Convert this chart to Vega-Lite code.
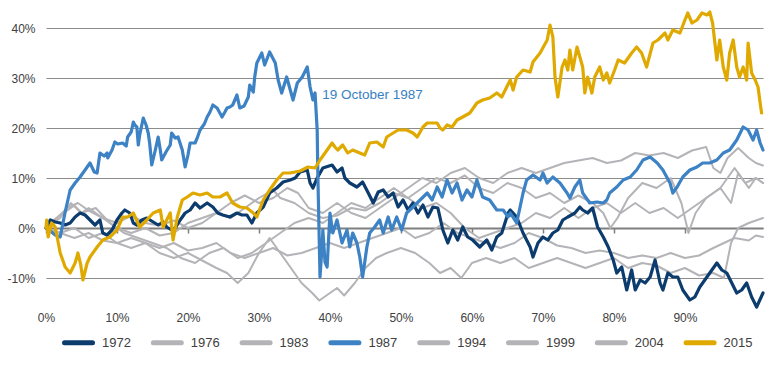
{
  "$schema": "https://vega.github.io/schema/vega-lite/v6.json",
  "width": 717,
  "height": 300,
  "autosize": {"type": "none"},
  "padding": {"left": 46, "top": 8, "right": 7, "bottom": 59},
  "background": "#ffffff",
  "config": {
    "view": {"stroke": null},
    "font": "Liberation Sans",
    "axis": {"labelFont": "Liberation Sans", "labelFontSize": 12, "labelColor": "#404040", "title": null},
    "legend": {"labelFont": "Liberation Sans"}
  },
  "datasets": {
    "lines": [
      {"s":"1972","x":0,"y":0},{"s":"1972","x":0.6,"y":1.6},{"s":"1972","x":1.3,"y":1.2},{"s":"1972","x":2.0,"y":1.0},{"s":"1972","x":2.7,"y":0.6},{"s":"1972","x":3.4,"y":1.0},{"s":"1972","x":4.1,"y":2.2},{"s":"1972","x":4.8,"y":3.0},{"s":"1972","x":5.5,"y":2.6},{"s":"1972","x":6.2,"y":1.6},{"s":"1972","x":6.9,"y":0.6},{"s":"1972","x":7.6,"y":1.6},{"s":"1972","x":8.0,"y":-1.0},{"s":"1972","x":8.6,"y":-1.4},{"s":"1972","x":9.3,"y":-0.4},{"s":"1972","x":10.0,"y":1.6},{"s":"1972","x":10.7,"y":3.0},{"s":"1972","x":11.1,"y":3.6},{"s":"1972","x":11.8,"y":3.0},{"s":"1972","x":12.3,"y":1.0},{"s":"1972","x":12.8,"y":0.6},{"s":"1972","x":13.5,"y":1.6},{"s":"1972","x":14.2,"y":2.0},{"s":"1972","x":15.1,"y":1.2},{"s":"1972","x":15.8,"y":0.6},{"s":"1972","x":16.5,"y":1.2},{"s":"1972","x":17.0,"y":0.2},{"s":"1972","x":17.7,"y":-0.4},{"s":"1972","x":18.2,"y":0.0},{"s":"1972","x":18.9,"y":1.6},{"s":"1972","x":19.6,"y":3.0},{"s":"1972","x":20.3,"y":3.6},{"s":"1972","x":21.0,"y":5.0},{"s":"1972","x":21.7,"y":4.0},{"s":"1972","x":22.7,"y":5.0},{"s":"1972","x":23.5,"y":4.2},{"s":"1972","x":24.2,"y":3.0},{"s":"1972","x":24.9,"y":2.6},{"s":"1972","x":25.9,"y":2.2},{"s":"1972","x":26.9,"y":3.0},{"s":"1972","x":27.6,"y":2.6},{"s":"1972","x":28.3,"y":2.6},{"s":"1972","x":29.0,"y":1.0},{"s":"1972","x":29.7,"y":3.0},{"s":"1972","x":30.6,"y":4.2},{"s":"1972","x":31.5,"y":7.0},{"s":"1972","x":32.5,"y":8.0},{"s":"1972","x":33.4,"y":9.2},{"s":"1972","x":34.4,"y":9.6},{"s":"1972","x":35.1,"y":10.0},{"s":"1972","x":35.8,"y":11.2},{"s":"1972","x":36.8,"y":11.6},{"s":"1972","x":37.2,"y":9.0},{"s":"1972","x":37.6,"y":8.0},{"s":"1972","x":38.2,"y":10.0},{"s":"1972","x":39.0,"y":12.0},{"s":"1972","x":40.3,"y":12.6},{"s":"1972","x":41.0,"y":11.2},{"s":"1972","x":41.7,"y":12.0},{"s":"1972","x":42.1,"y":10.0},{"s":"1972","x":42.8,"y":9.0},{"s":"1972","x":43.8,"y":8.2},{"s":"1972","x":44.6,"y":9.2},{"s":"1972","x":45.4,"y":7.0},{"s":"1972","x":46.1,"y":5.0},{"s":"1972","x":46.8,"y":7.2},{"s":"1972","x":47.5,"y":7.6},{"s":"1972","x":48.2,"y":6.2},{"s":"1972","x":48.9,"y":7.0},{"s":"1972","x":49.6,"y":4.2},{"s":"1972","x":50.3,"y":5.6},{"s":"1972","x":51.0,"y":3.6},{"s":"1972","x":51.7,"y":5.0},{"s":"1972","x":52.4,"y":3.0},{"s":"1972","x":53.1,"y":4.6},{"s":"1972","x":53.8,"y":2.2},{"s":"1972","x":54.5,"y":4.2},{"s":"1972","x":55.2,"y":4.0},{"s":"1972","x":55.9,"y":-0.4},{"s":"1972","x":56.6,"y":-3.0},{"s":"1972","x":57.3,"y":-0.4},{"s":"1972","x":58.0,"y":-2.4},{"s":"1972","x":58.7,"y":0.2},{"s":"1972","x":59.4,"y":-1.8},{"s":"1972","x":60.1,"y":-2.4},{"s":"1972","x":61.1,"y":-3.8},{"s":"1972","x":62.1,"y":-2.4},{"s":"1972","x":62.8,"y":-4.4},{"s":"1972","x":63.5,"y":-1.8},{"s":"1972","x":64.2,"y":-1.0},{"s":"1972","x":65.1,"y":3.0},{"s":"1972","x":65.4,"y":3.6},{"s":"1972","x":66.3,"y":2.2},{"s":"1972","x":67.2,"y":-1.0},{"s":"1972","x":68.2,"y":-3.8},{"s":"1972","x":68.6,"y":-5.8},{"s":"1972","x":69.3,"y":-3.0},{"s":"1972","x":70.0,"y":-1.8},{"s":"1972","x":70.7,"y":-2.4},{"s":"1972","x":71.4,"y":-1.0},{"s":"1972","x":72.1,"y":-0.4},{"s":"1972","x":72.8,"y":1.6},{"s":"1972","x":73.5,"y":2.2},{"s":"1972","x":74.5,"y":3.0},{"s":"1972","x":75.2,"y":4.2},{"s":"1972","x":75.6,"y":3.6},{"s":"1972","x":76.3,"y":3.0},{"s":"1972","x":77.0,"y":4.0},{"s":"1972","x":77.7,"y":0.2},{"s":"1972","x":78.5,"y":-1.8},{"s":"1972","x":79.2,"y":-3.8},{"s":"1972","x":79.9,"y":-6.4},{"s":"1972","x":80.4,"y":-9.0},{"s":"1972","x":81.1,"y":-7.8},{"s":"1972","x":81.8,"y":-12.4},{"s":"1972","x":82.5,"y":-8.4},{"s":"1972","x":83.0,"y":-12.4},{"s":"1972","x":83.7,"y":-10.4},{"s":"1972","x":84.4,"y":-11.0},{"s":"1972","x":85.1,"y":-9.8},{"s":"1972","x":85.8,"y":-6.4},{"s":"1972","x":86.5,"y":-11.0},{"s":"1972","x":86.9,"y":-12.4},{"s":"1972","x":87.6,"y":-9.0},{"s":"1972","x":88.3,"y":-9.8},{"s":"1972","x":89.0,"y":-9.8},{"s":"1972","x":89.7,"y":-12.4},{"s":"1972","x":90.7,"y":-14.4},{"s":"1972","x":91.4,"y":-13.8},{"s":"1972","x":92.1,"y":-11.8},{"s":"1972","x":92.8,"y":-10.4},{"s":"1972","x":93.5,"y":-9.0},{"s":"1972","x":94.5,"y":-7.0},{"s":"1972","x":95.2,"y":-8.4},{"s":"1972","x":95.9,"y":-9.0},{"s":"1972","x":96.6,"y":-11.0},{"s":"1972","x":97.3,"y":-13.0},{"s":"1972","x":98.0,"y":-12.4},{"s":"1972","x":98.7,"y":-11.0},{"s":"1972","x":99.4,"y":-13.8},{"s":"1972","x":100.1,"y":-15.8},{"s":"1972","x":101.0,"y":-13.0},

      {"s":"1987","x":0,"y":0},{"s":"1987","x":0.6,"y":-0.6},{"s":"1987","x":1.3,"y":-1.4},{"s":"1987","x":2.0,"y":-1.8},{"s":"1987","x":2.7,"y":3.2},{"s":"1987","x":3.4,"y":7.6},{"s":"1987","x":4.1,"y":9.0},{"s":"1987","x":4.8,"y":10.2},{"s":"1987","x":5.5,"y":11.6},{"s":"1987","x":6.2,"y":13.0},{"s":"1987","x":6.8,"y":11.2},{"s":"1987","x":7.2,"y":11.0},{"s":"1987","x":7.6,"y":15.0},{"s":"1987","x":8.2,"y":14.4},{"s":"1987","x":8.6,"y":15.0},{"s":"1987","x":8.7,"y":14.0},{"s":"1987","x":9.3,"y":15.6},{"s":"1987","x":9.7,"y":17.2},{"s":"1987","x":10.1,"y":16.8},{"s":"1987","x":10.8,"y":17.0},{"s":"1987","x":11.3,"y":16.4},{"s":"1987","x":11.5,"y":18.2},{"s":"1987","x":12.0,"y":19.2},{"s":"1987","x":12.3,"y":21.2},{"s":"1987","x":12.5,"y":20.6},{"s":"1987","x":12.8,"y":20.2},{"s":"1987","x":13.0,"y":16.6},{"s":"1987","x":13.2,"y":18.6},{"s":"1987","x":13.7,"y":22.0},{"s":"1987","x":14.1,"y":20.6},{"s":"1987","x":14.4,"y":19.0},{"s":"1987","x":14.6,"y":17.0},{"s":"1987","x":14.9,"y":12.6},{"s":"1987","x":15.4,"y":15.6},{"s":"1987","x":15.8,"y":18.2},{"s":"1987","x":16.1,"y":15.6},{"s":"1987","x":16.3,"y":13.6},{"s":"1987","x":16.9,"y":15.2},{"s":"1987","x":17.5,"y":16.6},{"s":"1987","x":17.7,"y":19.0},{"s":"1987","x":18.2,"y":18.0},{"s":"1987","x":18.6,"y":18.2},{"s":"1987","x":19.2,"y":15.6},{"s":"1987","x":19.6,"y":12.2},{"s":"1987","x":20.0,"y":14.6},{"s":"1987","x":20.3,"y":17.0},{"s":"1987","x":21.0,"y":17.0},{"s":"1987","x":21.3,"y":18.0},{"s":"1987","x":21.7,"y":19.6},{"s":"1987","x":22.3,"y":20.8},{"s":"1987","x":22.7,"y":22.2},{"s":"1987","x":23.1,"y":23.2},{"s":"1987","x":23.5,"y":24.6},{"s":"1987","x":24.1,"y":24.0},{"s":"1987","x":24.8,"y":22.2},{"s":"1987","x":25.2,"y":23.2},{"s":"1987","x":25.5,"y":24.0},{"s":"1987","x":25.9,"y":24.2},{"s":"1987","x":26.3,"y":24.6},{"s":"1987","x":26.9,"y":26.6},{"s":"1987","x":27.3,"y":24.0},{"s":"1987","x":27.9,"y":24.4},{"s":"1987","x":28.5,"y":26.2},{"s":"1987","x":28.7,"y":28.6},{"s":"1987","x":29.2,"y":27.2},{"s":"1987","x":29.4,"y":30.2},{"s":"1987","x":29.7,"y":33.0},{"s":"1987","x":30.4,"y":35.0},{"s":"1987","x":30.8,"y":32.6},{"s":"1987","x":31.5,"y":35.2},{"s":"1987","x":32.3,"y":33.0},{"s":"1987","x":32.7,"y":29.6},{"s":"1987","x":33.2,"y":27.0},{"s":"1987","x":33.9,"y":30.2},{"s":"1987","x":34.8,"y":25.6},{"s":"1987","x":35.4,"y":29.0},{"s":"1987","x":36.1,"y":30.2},{"s":"1987","x":36.8,"y":32.2},{"s":"1987","x":37.2,"y":28.2},{"s":"1987","x":37.6,"y":25.6},{"s":"1987","x":37.9,"y":27.0},{"s":"1987","x":38.2,"y":19.6},{"s":"1987","x":38.3,"y":10.2},{"s":"1987","x":38.6,"y":-9.8},{"s":"1987","x":38.9,"y":-3.4},{"s":"1987","x":39.0,"y":-0.4},{"s":"1987","x":39.3,"y":-6.8},{"s":"1987","x":39.6,"y":-7.8},{"s":"1987","x":40.0,"y":3.0},{"s":"1987","x":40.4,"y":-1.0},{"s":"1987","x":41.0,"y":1.6},{"s":"1987","x":41.7,"y":-3.0},{"s":"1987","x":42.4,"y":-0.4},{"s":"1987","x":42.8,"y":-3.8},{"s":"1987","x":43.2,"y":-1.0},{"s":"1987","x":43.8,"y":-3.0},{"s":"1987","x":44.2,"y":-5.8},{"s":"1987","x":44.6,"y":-9.8},{"s":"1987","x":45.2,"y":-3.8},{"s":"1987","x":45.6,"y":-1.0},{"s":"1987","x":46.3,"y":0.2},{"s":"1987","x":47.0,"y":1.6},{"s":"1987","x":47.5,"y":-1.0},{"s":"1987","x":48.2,"y":2.2},{"s":"1987","x":48.7,"y":-0.4},{"s":"1987","x":49.4,"y":2.2},{"s":"1987","x":50.1,"y":-0.4},{"s":"1987","x":50.8,"y":3.0},{"s":"1987","x":51.7,"y":4.2},{"s":"1987","x":52.7,"y":5.6},{"s":"1987","x":53.7,"y":7.0},{"s":"1987","x":54.4,"y":5.6},{"s":"1987","x":55.1,"y":8.2},{"s":"1987","x":55.8,"y":6.2},{"s":"1987","x":56.5,"y":9.6},{"s":"1987","x":57.2,"y":7.0},{"s":"1987","x":57.9,"y":9.0},{"s":"1987","x":58.6,"y":5.6},{"s":"1987","x":59.3,"y":7.6},{"s":"1987","x":60.0,"y":6.2},{"s":"1987","x":60.7,"y":9.6},{"s":"1987","x":61.5,"y":6.2},{"s":"1987","x":62.5,"y":5.6},{"s":"1987","x":63.5,"y":3.6},{"s":"1987","x":64.4,"y":3.6},{"s":"1987","x":65.1,"y":2.2},{"s":"1987","x":65.4,"y":3.0},{"s":"1987","x":66.3,"y":1.0},{"s":"1987","x":67.2,"y":7.0},{"s":"1987","x":67.7,"y":9.6},{"s":"1987","x":68.6,"y":10.6},{"s":"1987","x":69.6,"y":9.6},{"s":"1987","x":70.0,"y":11.0},{"s":"1987","x":70.6,"y":9.0},{"s":"1987","x":71.4,"y":10.2},{"s":"1987","x":72.4,"y":9.0},{"s":"1987","x":73.4,"y":7.0},{"s":"1987","x":73.8,"y":6.0},{"s":"1987","x":74.5,"y":8.2},{"s":"1987","x":75.2,"y":9.6},{"s":"1987","x":75.6,"y":7.0},{"s":"1987","x":76.6,"y":5.0},{"s":"1987","x":77.6,"y":5.2},{"s":"1987","x":78.5,"y":5.0},{"s":"1987","x":79.0,"y":5.6},{"s":"1987","x":79.4,"y":7.0},{"s":"1987","x":80.4,"y":8.2},{"s":"1987","x":81.3,"y":9.6},{"s":"1987","x":82.3,"y":10.2},{"s":"1987","x":83.2,"y":11.6},{"s":"1987","x":84.1,"y":13.6},{"s":"1987","x":85.1,"y":14.2},{"s":"1987","x":86.1,"y":13.0},{"s":"1987","x":86.9,"y":11.6},{"s":"1987","x":87.9,"y":9.0},{"s":"1987","x":88.3,"y":7.0},{"s":"1987","x":88.9,"y":8.2},{"s":"1987","x":89.7,"y":10.2},{"s":"1987","x":90.7,"y":11.6},{"s":"1987","x":91.7,"y":12.2},{"s":"1987","x":92.5,"y":13.0},{"s":"1987","x":93.5,"y":13.0},{"s":"1987","x":94.5,"y":13.6},{"s":"1987","x":95.4,"y":15.0},{"s":"1987","x":96.3,"y":15.6},{"s":"1987","x":97.3,"y":17.6},{"s":"1987","x":98.2,"y":20.2},{"s":"1987","x":98.9,"y":19.6},{"s":"1987","x":99.6,"y":17.6},{"s":"1987","x":100.1,"y":19.6},{"s":"1987","x":100.6,"y":17.0},{"s":"1987","x":101.0,"y":15.6},

      {"s":"2015","x":0,"y":0},{"s":"2015","x":0.1,"y":1.6},{"s":"2015","x":0.3,"y":-1.8},{"s":"2015","x":0.8,"y":1.0},{"s":"2015","x":1.3,"y":0.2},{"s":"2015","x":2.0,"y":-5.0},{"s":"2015","x":2.7,"y":-7.8},{"s":"2015","x":3.4,"y":-9.0},{"s":"2015","x":4.1,"y":-7.0},{"s":"2015","x":4.5,"y":-5.0},{"s":"2015","x":4.9,"y":-7.4},{"s":"2015","x":5.2,"y":-10.4},{"s":"2015","x":5.8,"y":-7.0},{"s":"2015","x":6.2,"y":-5.8},{"s":"2015","x":7.2,"y":-3.8},{"s":"2015","x":8.0,"y":-2.4},{"s":"2015","x":9.0,"y":-1.8},{"s":"2015","x":10.0,"y":-0.4},{"s":"2015","x":10.8,"y":2.2},{"s":"2015","x":11.5,"y":2.2},{"s":"2015","x":12.3,"y":3.0},{"s":"2015","x":13.2,"y":0.2},{"s":"2015","x":14.2,"y":1.6},{"s":"2015","x":15.1,"y":3.0},{"s":"2015","x":16.1,"y":3.6},{"s":"2015","x":16.5,"y":0.2},{"s":"2015","x":17.5,"y":3.0},{"s":"2015","x":17.9,"y":-2.4},{"s":"2015","x":18.5,"y":2.2},{"s":"2015","x":19.2,"y":5.6},{"s":"2015","x":19.9,"y":6.2},{"s":"2015","x":20.7,"y":7.0},{"s":"2015","x":21.7,"y":6.6},{"s":"2015","x":22.7,"y":7.0},{"s":"2015","x":23.5,"y":6.2},{"s":"2015","x":24.5,"y":6.2},{"s":"2015","x":25.5,"y":7.0},{"s":"2015","x":26.3,"y":5.0},{"s":"2015","x":27.3,"y":4.2},{"s":"2015","x":28.3,"y":4.0},{"s":"2015","x":29.2,"y":3.0},{"s":"2015","x":29.7,"y":2.2},{"s":"2015","x":30.6,"y":5.6},{"s":"2015","x":31.5,"y":7.6},{"s":"2015","x":32.5,"y":9.6},{"s":"2015","x":33.4,"y":11.0},{"s":"2015","x":34.4,"y":11.0},{"s":"2015","x":35.8,"y":11.4},{"s":"2015","x":36.9,"y":12.2},{"s":"2015","x":37.9,"y":12.0},{"s":"2015","x":38.6,"y":13.6},{"s":"2015","x":39.6,"y":15.6},{"s":"2015","x":40.3,"y":17.0},{"s":"2015","x":40.7,"y":16.2},{"s":"2015","x":41.1,"y":15.6},{"s":"2015","x":41.8,"y":16.6},{"s":"2015","x":42.5,"y":15.0},{"s":"2015","x":43.2,"y":15.6},{"s":"2015","x":44.2,"y":15.0},{"s":"2015","x":44.9,"y":14.6},{"s":"2015","x":45.6,"y":17.0},{"s":"2015","x":46.6,"y":17.2},{"s":"2015","x":47.5,"y":16.2},{"s":"2015","x":48.0,"y":18.2},{"s":"2015","x":48.9,"y":19.0},{"s":"2015","x":49.6,"y":19.6},{"s":"2015","x":50.8,"y":19.6},{"s":"2015","x":51.7,"y":19.0},{"s":"2015","x":52.3,"y":18.2},{"s":"2015","x":53.1,"y":20.2},{"s":"2015","x":53.7,"y":21.0},{"s":"2015","x":55.1,"y":21.0},{"s":"2015","x":55.5,"y":20.0},{"s":"2015","x":55.9,"y":19.6},{"s":"2015","x":56.5,"y":20.6},{"s":"2015","x":57.2,"y":20.2},{"s":"2015","x":57.9,"y":21.6},{"s":"2015","x":58.7,"y":22.2},{"s":"2015","x":59.7,"y":23.0},{"s":"2015","x":60.7,"y":25.0},{"s":"2015","x":61.5,"y":25.6},{"s":"2015","x":62.5,"y":26.0},{"s":"2015","x":63.5,"y":27.0},{"s":"2015","x":64.2,"y":26.2},{"s":"2015","x":64.9,"y":28.2},{"s":"2015","x":65.4,"y":29.6},{"s":"2015","x":65.8,"y":27.6},{"s":"2015","x":66.3,"y":30.2},{"s":"2015","x":67.2,"y":31.6},{"s":"2015","x":68.2,"y":31.2},{"s":"2015","x":68.6,"y":33.2},{"s":"2015","x":69.6,"y":35.0},{"s":"2015","x":70.6,"y":37.6},{"s":"2015","x":71.0,"y":40.6},{"s":"2015","x":71.4,"y":38.2},{"s":"2015","x":71.7,"y":30.2},{"s":"2015","x":72.1,"y":26.2},{"s":"2015","x":72.7,"y":32.2},{"s":"2015","x":73.1,"y":33.6},{"s":"2015","x":73.5,"y":31.6},{"s":"2015","x":73.8,"y":35.6},{"s":"2015","x":74.2,"y":31.6},{"s":"2015","x":74.8,"y":36.2},{"s":"2015","x":75.2,"y":34.2},{"s":"2015","x":75.6,"y":32.2},{"s":"2015","x":75.9,"y":27.0},{"s":"2015","x":76.3,"y":30.2},{"s":"2015","x":76.9,"y":27.0},{"s":"2015","x":77.3,"y":30.2},{"s":"2015","x":78.0,"y":32.2},{"s":"2015","x":78.5,"y":29.6},{"s":"2015","x":79.0,"y":31.0},{"s":"2015","x":79.4,"y":29.0},{"s":"2015","x":80.1,"y":31.6},{"s":"2015","x":80.6,"y":33.6},{"s":"2015","x":81.5,"y":33.0},{"s":"2015","x":82.5,"y":35.0},{"s":"2015","x":83.2,"y":36.2},{"s":"2015","x":83.9,"y":35.0},{"s":"2015","x":84.6,"y":32.2},{"s":"2015","x":85.5,"y":37.0},{"s":"2015","x":86.2,"y":37.6},{"s":"2015","x":87.2,"y":39.0},{"s":"2015","x":87.6,"y":37.6},{"s":"2015","x":88.3,"y":39.6},{"s":"2015","x":89.3,"y":39.0},{"s":"2015","x":90.0,"y":41.6},{"s":"2015","x":90.4,"y":43.0},{"s":"2015","x":91.0,"y":41.0},{"s":"2015","x":91.7,"y":41.6},{"s":"2015","x":92.4,"y":43.0},{"s":"2015","x":93.1,"y":42.6},{"s":"2015","x":93.5,"y":43.2},{"s":"2015","x":93.9,"y":41.0},{"s":"2015","x":94.5,"y":33.6},{"s":"2015","x":94.9,"y":37.6},{"s":"2015","x":95.4,"y":32.2},{"s":"2015","x":95.9,"y":29.6},{"s":"2015","x":96.3,"y":35.0},{"s":"2015","x":96.8,"y":37.6},{"s":"2015","x":97.3,"y":32.2},{"s":"2015","x":97.7,"y":30.2},{"s":"2015","x":98.2,"y":32.2},{"s":"2015","x":98.7,"y":29.6},{"s":"2015","x":98.9,"y":37.0},{"s":"2015","x":99.4,"y":31.0},{"s":"2015","x":99.9,"y":29.6},{"s":"2015","x":100.3,"y":28.2},{"s":"2015","x":100.6,"y":25.0},{"s":"2015","x":100.8,"y":23.0}
    ],
    "grays": [
      {"s":"1976","x":0,"y":0},{"s":"1976","x":1,"y":1.5},{"s":"1976","x":2.5,"y":3},{"s":"1976","x":4,"y":4.5},{"s":"1976","x":5,"y":3},{"s":"1976","x":6,"y":4},{"s":"1976","x":8,"y":2},{"s":"1976","x":10,"y":1},{"s":"1976","x":12,"y":2.5},{"s":"1976","x":14,"y":1},{"s":"1976","x":16,"y":0.5},{"s":"1976","x":18,"y":1.5},{"s":"1976","x":20,"y":0},{"s":"1976","x":22,"y":1},{"s":"1976","x":24,"y":3},{"s":"1976","x":26,"y":5},{"s":"1976","x":28,"y":6.5},{"s":"1976","x":30,"y":5},{"s":"1976","x":32,"y":6},{"s":"1976","x":34,"y":8},{"s":"1976","x":35.5,"y":7},{"s":"1976","x":37,"y":4},{"s":"1976","x":39,"y":3},{"s":"1976","x":41,"y":5},{"s":"1976","x":43,"y":3},{"s":"1976","x":45,"y":2},{"s":"1976","x":47,"y":4},{"s":"1976","x":49,"y":6},{"s":"1976","x":51,"y":8},{"s":"1976","x":53,"y":10},{"s":"1976","x":55,"y":9},{"s":"1976","x":57,"y":11},{"s":"1976","x":59,"y":12},{"s":"1976","x":61,"y":10},{"s":"1976","x":63,"y":9},{"s":"1976","x":65,"y":11},{"s":"1976","x":67,"y":12},{"s":"1976","x":69,"y":11},{"s":"1976","x":71,"y":12},{"s":"1976","x":73,"y":13},{"s":"1976","x":75,"y":13.5},{"s":"1976","x":77,"y":14},{"s":"1976","x":79,"y":13},{"s":"1976","x":81,"y":13.5},{"s":"1976","x":83,"y":15},{"s":"1976","x":85,"y":14.5},{"s":"1976","x":87,"y":15},{"s":"1976","x":89,"y":14},{"s":"1976","x":91,"y":15.5},{"s":"1976","x":93,"y":16.2},{"s":"1976","x":94,"y":12},{"s":"1976","x":95,"y":11},{"s":"1976","x":96,"y":14},{"s":"1976","x":97.5,"y":16},{"s":"1976","x":99,"y":14},{"s":"1976","x":100,"y":13},{"s":"1976","x":101,"y":12.5},

      {"s":"1983","x":0,"y":0},{"s":"1983","x":1.5,"y":2},{"s":"1983","x":3,"y":4},{"s":"1983","x":4.5,"y":5},{"s":"1983","x":6,"y":3.5},{"s":"1983","x":8,"y":2},{"s":"1983","x":10,"y":0},{"s":"1983","x":12,"y":-1},{"s":"1983","x":14,"y":0},{"s":"1983","x":16,"y":-1.5},{"s":"1983","x":18,"y":-1},{"s":"1983","x":20,"y":1},{"s":"1983","x":22,"y":2},{"s":"1983","x":24,"y":3},{"s":"1983","x":26,"y":2},{"s":"1983","x":28,"y":4},{"s":"1983","x":30,"y":6},{"s":"1983","x":32,"y":7.6},{"s":"1983","x":33,"y":6},{"s":"1983","x":35,"y":5},{"s":"1983","x":37,"y":3},{"s":"1983","x":39,"y":2},{"s":"1983","x":41,"y":2.5},{"s":"1983","x":43,"y":4},{"s":"1983","x":45,"y":3.5},{"s":"1983","x":47,"y":5},{"s":"1983","x":49,"y":7},{"s":"1983","x":51,"y":6},{"s":"1983","x":53,"y":8},{"s":"1983","x":55,"y":10},{"s":"1983","x":57,"y":9},{"s":"1983","x":59,"y":10.5},{"s":"1983","x":61,"y":8},{"s":"1983","x":63,"y":7},{"s":"1983","x":65,"y":9},{"s":"1983","x":67,"y":8},{"s":"1983","x":69,"y":6},{"s":"1983","x":71,"y":7},{"s":"1983","x":73,"y":5},{"s":"1983","x":75,"y":6.5},{"s":"1983","x":77,"y":5},{"s":"1983","x":78.5,"y":3},{"s":"1983","x":79.5,"y":0},{"s":"1983","x":80.5,"y":2},{"s":"1983","x":82,"y":6},{"s":"1983","x":84,"y":9},{"s":"1983","x":86,"y":8},{"s":"1983","x":88,"y":10},{"s":"1983","x":89.5,"y":5},{"s":"1983","x":90.5,"y":-1},{"s":"1983","x":91.5,"y":3},{"s":"1983","x":93,"y":6},{"s":"1983","x":95,"y":8},{"s":"1983","x":97,"y":12},{"s":"1983","x":98.5,"y":9},{"s":"1983","x":100,"y":10},{"s":"1983","x":101,"y":9},

      {"s":"1994","x":0,"y":0},{"s":"1994","x":2,"y":-1},{"s":"1994","x":4,"y":-2},{"s":"1994","x":6,"y":-1},{"s":"1994","x":8,"y":-2.5},{"s":"1994","x":10,"y":-3},{"s":"1994","x":12,"y":-2},{"s":"1994","x":14,"y":-3},{"s":"1994","x":16,"y":-4},{"s":"1994","x":18,"y":-3},{"s":"1994","x":20,"y":-4.5},{"s":"1994","x":22,"y":-4},{"s":"1994","x":24,"y":-3},{"s":"1994","x":26,"y":-5},{"s":"1994","x":28,"y":-6},{"s":"1994","x":30,"y":-5},{"s":"1994","x":32,"y":-4},{"s":"1994","x":34,"y":-5.5},{"s":"1994","x":36,"y":-5},{"s":"1994","x":38,"y":-4},{"s":"1994","x":40,"y":-3},{"s":"1994","x":42,"y":-4},{"s":"1994","x":44,"y":-3},{"s":"1994","x":46,"y":-2},{"s":"1994","x":48,"y":-1},{"s":"1994","x":50,"y":0},{"s":"1994","x":52,"y":-2},{"s":"1994","x":54,"y":-1},{"s":"1994","x":56,"y":1},{"s":"1994","x":58,"y":-1},{"s":"1994","x":60,"y":-2},{"s":"1994","x":62,"y":-3},{"s":"1994","x":64,"y":-4},{"s":"1994","x":66,"y":-3},{"s":"1994","x":68,"y":-1},{"s":"1994","x":70,"y":-2},{"s":"1994","x":72,"y":-3.5},{"s":"1994","x":74,"y":-4},{"s":"1994","x":76,"y":-5},{"s":"1994","x":78,"y":-4.5},{"s":"1994","x":80,"y":-5},{"s":"1994","x":82,"y":-6},{"s":"1994","x":84,"y":-5.5},{"s":"1994","x":86,"y":-6},{"s":"1994","x":88,"y":-5},{"s":"1994","x":90,"y":-6},{"s":"1994","x":92,"y":-5.5},{"s":"1994","x":94,"y":-4},{"s":"1994","x":95.5,"y":-3},{"s":"1994","x":97,"y":-2},{"s":"1994","x":99,"y":-2.5},{"s":"1994","x":100,"y":-1.5},{"s":"1994","x":101,"y":-1.8},

      {"s":"1999","x":0,"y":0},{"s":"1999","x":2,"y":-1},{"s":"1999","x":4,"y":0},{"s":"1999","x":6,"y":-2},{"s":"1999","x":8,"y":-1},{"s":"1999","x":10,"y":-3},{"s":"1999","x":12,"y":-4},{"s":"1999","x":14,"y":-3},{"s":"1999","x":16,"y":-5},{"s":"1999","x":18,"y":-6},{"s":"1999","x":20,"y":-5},{"s":"1999","x":22,"y":-6.5},{"s":"1999","x":24,"y":-8},{"s":"1999","x":25.5,"y":-9},{"s":"1999","x":27,"y":-11},{"s":"1999","x":28.5,"y":-9},{"s":"1999","x":30,"y":-5},{"s":"1999","x":31.5,"y":-2},{"s":"1999","x":33,"y":-5},{"s":"1999","x":34.5,"y":-8},{"s":"1999","x":36,"y":-11},{"s":"1999","x":37.5,"y":-13},{"s":"1999","x":38.5,"y":-14.5},{"s":"1999","x":40,"y":-13},{"s":"1999","x":41,"y":-12},{"s":"1999","x":42,"y":-13.5},{"s":"1999","x":43.5,"y":-11},{"s":"1999","x":45,"y":-8},{"s":"1999","x":46.5,"y":-6},{"s":"1999","x":48,"y":-5},{"s":"1999","x":50,"y":-4},{"s":"1999","x":52,"y":-5},{"s":"1999","x":54,"y":-7},{"s":"1999","x":55.5,"y":-9},{"s":"1999","x":57,"y":-8},{"s":"1999","x":58.5,"y":-10},{"s":"1999","x":60,"y":-7},{"s":"1999","x":62,"y":-6},{"s":"1999","x":64,"y":-7},{"s":"1999","x":66,"y":-6},{"s":"1999","x":68,"y":-8},{"s":"1999","x":70,"y":-7},{"s":"1999","x":72,"y":-6},{"s":"1999","x":74,"y":-7},{"s":"1999","x":76,"y":-8},{"s":"1999","x":78,"y":-7},{"s":"1999","x":80,"y":-6},{"s":"1999","x":82,"y":-8},{"s":"1999","x":84,"y":-7},{"s":"1999","x":86,"y":-7.5},{"s":"1999","x":88,"y":-9},{"s":"1999","x":90,"y":-8},{"s":"1999","x":92,"y":-9.5},{"s":"1999","x":94,"y":-9},{"s":"1999","x":95.5,"y":-10},{"s":"1999","x":96.5,"y":-3},{"s":"1999","x":97.5,"y":0},{"s":"1999","x":99,"y":1},{"s":"1999","x":100,"y":1.5},{"s":"1999","x":101,"y":2},

      {"s":"2004","x":0,"y":0},{"s":"2004","x":2,"y":2},{"s":"2004","x":3.5,"y":5},{"s":"2004","x":5,"y":3},{"s":"2004","x":7,"y":4},{"s":"2004","x":9,"y":1},{"s":"2004","x":11,"y":-1},{"s":"2004","x":13,"y":-2},{"s":"2004","x":15,"y":-3},{"s":"2004","x":17,"y":-4},{"s":"2004","x":19,"y":-6},{"s":"2004","x":21,"y":-7},{"s":"2004","x":23,"y":-5},{"s":"2004","x":25,"y":-4},{"s":"2004","x":27,"y":-6},{"s":"2004","x":29,"y":-5},{"s":"2004","x":31,"y":-3},{"s":"2004","x":33,"y":-1},{"s":"2004","x":35,"y":1},{"s":"2004","x":37,"y":2},{"s":"2004","x":39,"y":1},{"s":"2004","x":41,"y":3},{"s":"2004","x":43,"y":5},{"s":"2004","x":45,"y":4},{"s":"2004","x":47,"y":6},{"s":"2004","x":49,"y":8},{"s":"2004","x":51,"y":6},{"s":"2004","x":53,"y":4},{"s":"2004","x":55,"y":5},{"s":"2004","x":57,"y":3},{"s":"2004","x":59,"y":0},{"s":"2004","x":61,"y":-2},{"s":"2004","x":63,"y":-1},{"s":"2004","x":65,"y":0},{"s":"2004","x":67,"y":1},{"s":"2004","x":69,"y":3},{"s":"2004","x":71,"y":2},{"s":"2004","x":73,"y":4},{"s":"2004","x":75,"y":2},{"s":"2004","x":77,"y":4},{"s":"2004","x":79,"y":5},{"s":"2004","x":81,"y":3},{"s":"2004","x":83,"y":5},{"s":"2004","x":85,"y":3},{"s":"2004","x":87,"y":4},{"s":"2004","x":89,"y":2},{"s":"2004","x":91,"y":4},{"s":"2004","x":93,"y":6},{"s":"2004","x":95,"y":8},{"s":"2004","x":96.5,"y":5},{"s":"2004","x":97.5,"y":11},{"s":"2004","x":99,"y":8},{"s":"2004","x":100,"y":10},{"s":"2004","x":101,"y":9}
    ],
    "notes": [{"x": 38.9, "y": 26.6, "t": "19 October 1987"}]
  },
  "layer": [
    {
      "data": {"name": "grays"},
      "mark": {"type": "line", "strokeWidth": 2, "strokeJoin": "round", "strokeCap": "round"},
      "encoding": {
        "x": {"field": "x", "type": "quantitative",
          "scale": {"domain": [0, 101], "nice": false, "zero": false},
          "axis": {"values": [0,10,20,30,40,50,60,70,80,90], "labelExpr": "datum.value + '%'",
            "orient": "bottom", "offset": -80, "grid": false, "labelFlush": false,
            "domainColor": "#7f7f7f", "domainWidth": 2,
            "tickColor": "#7f7f7f", "tickSize": 5, "tickWidth": 1.5,
            "labelPadding": 79, "labelFontSize": 12}},
        "y": {"field": "y", "type": "quantitative",
          "scale": {"domain": [-16, 44], "nice": false, "zero": false},
          "axis": {"values": [-10,0,10,20,30,40], "labelExpr": "datum.value + '%'",
            "domain": false, "ticks": false, "grid": true,
            "gridColor": "#8c8c8c", "gridWidth": 1.2,
            "labelPadding": 11, "labelFontSize": 12}},
        "color": {"field": "s", "type": "nominal",
          "scale": {"domain": ["1972","1976","1983","1987","1994","1999","2004","2015"],
            "range": ["#0c3c6e","#b4b4b8","#b4b4b8","#3c82c4","#b4b4b8","#b4b4b8","#b4b4b8","#e0a900"]},
          "legend": {"orient": "none", "legendX": 16, "legendY": 318, "direction": "horizontal", "columns": 8,
            "title": null, "symbolType": "stroke", "symbolSize": 784, "symbolStrokeWidth": 5,
            "labelFontSize": 13, "labelColor": "#404040", "labelOffset": 7, "columnPadding": 11.8, "padding": 0,
            "encode": {"symbols": {"update": {"strokeCap": {"value": "round"}}}}}}
      }
    },
    {
      "data": {"name": "lines"},
      "mark": {"type": "line", "strokeWidth": 3.2, "strokeJoin": "round", "strokeCap": "round"},
      "encoding": {
        "x": {"field": "x", "type": "quantitative"},
        "y": {"field": "y", "type": "quantitative"},
        "color": {"field": "s", "type": "nominal"}
      }
    },
    {
      "data": {"name": "notes"},
      "mark": {"type": "text", "align": "left", "baseline": "middle", "fontSize": 13.5, "color": "#3a80c2", "font": "Liberation Sans"},
      "encoding": {
        "x": {"field": "x", "type": "quantitative"},
        "y": {"field": "y", "type": "quantitative"},
        "text": {"field": "t"}
      }
    }
  ]
}
